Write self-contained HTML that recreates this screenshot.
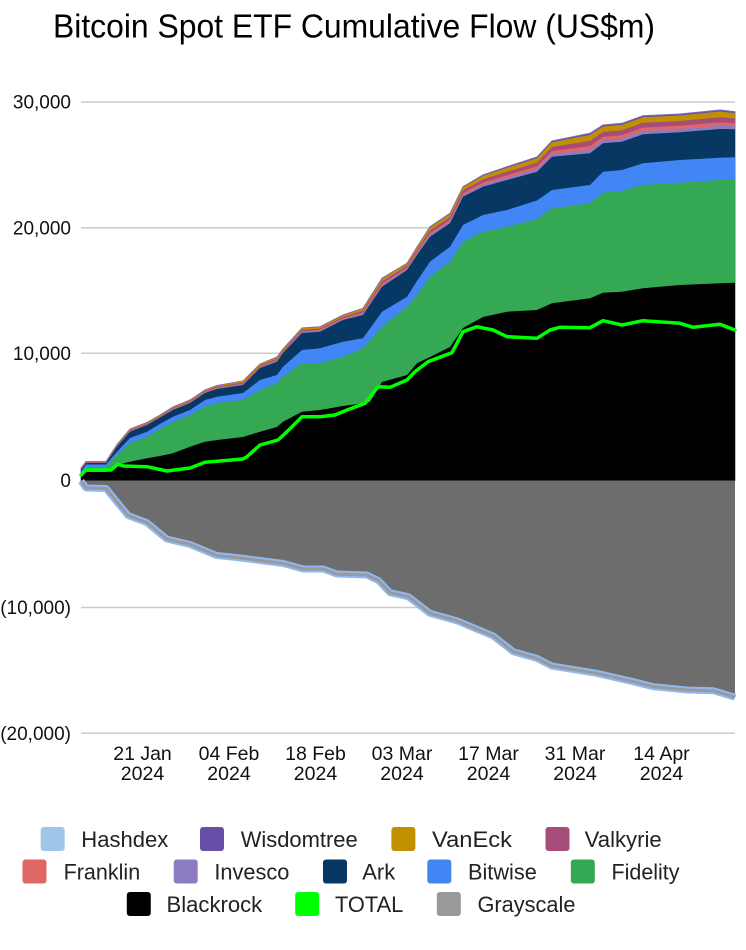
<!DOCTYPE html>
<html>
<head>
<meta charset="utf-8">
<style>
html,body{margin:0;padding:0;background:#fff;}
svg{display:block;}
text{font-family:"Liberation Sans",Arial,sans-serif;}
</style>
</head>
<body>
<svg width="746" height="950" viewBox="0 0 746 950" xmlns="http://www.w3.org/2000/svg">
<rect width="746" height="950" fill="#fff"/>
<!-- title -->
<text x="53" y="37.5" font-size="33" fill="#000" textLength="602" lengthAdjust="spacingAndGlyphs">Bitcoin Spot ETF Cumulative Flow (US$m)</text>

<!-- gridlines -->
<g stroke="#cccccc" stroke-width="1.5">
<line x1="81" y1="102" x2="735" y2="102"/>
<line x1="81" y1="227.7" x2="735" y2="227.7"/>
<line x1="81" y1="353.3" x2="735" y2="353.3"/>
<line x1="81" y1="607.5" x2="735" y2="607.5"/>
<line x1="81" y1="733.3" x2="735" y2="733.3"/>
</g>

<!-- y labels -->
<g font-size="19" fill="#111" text-anchor="end">
<text x="71" y="108.7">30,000</text>
<text x="71" y="234.4">20,000</text>
<text x="71" y="360">10,000</text>
<text x="71" y="487">0</text>
<text x="71" y="614.2">(10,000)</text>
<text x="71" y="740">(20,000)</text>
</g>

<!-- x labels -->
<g font-size="19.5" fill="#111" text-anchor="middle">
<text x="142.5" y="760">21 Jan</text><text x="142.5" y="780">2024</text>
<text x="229" y="760">04 Feb</text><text x="229" y="780">2024</text>
<text x="315.5" y="760">18 Feb</text><text x="315.5" y="780">2024</text>
<text x="402" y="760">03 Mar</text><text x="402" y="780">2024</text>
<text x="488.5" y="760">17 Mar</text><text x="488.5" y="780">2024</text>
<text x="575" y="760">31 Mar</text><text x="575" y="780">2024</text>
<text x="661.5" y="760">14 Apr</text><text x="661.5" y="780">2024</text>
</g>

<!-- positive stack -->
<polygon fill="#674ea7" stroke="#7b68b8" stroke-width="1" points="81,468 86,461.5 106,461.5 117,444.5 130,429 147,422.5 160,415 173,407 190,400 205,390 217,385.5 243,381 260,364 277,357 283,349 302,328 320,326.7 343,315 363,308.3 382,278.3 407,263.3 417,247 430,226.7 450,213.3 463,186.7 483,175 507,166.7 537,157 552,141 590,133.3 603,125 622,123.3 643,115.7 680,114 720,110 735,111.7 735,480.5 81,480.5"/>
<polygon fill="#bf9000" points="81,468.2 86,461.6 106,461.6 117,444.7 130,429.2 147,422.7 160,415.2 173,407.2 190,400.2 205,390.2 217,385.8 243,381.3 260,364.3 277,357.4 283,349.3 302,328.4 320,327.1 343,315.4 363,308.8 382,279 407,263.8 417,247.6 430,227.5 450,214.1 463,187.5 483,175.9 507,167.8 537,158.2 552,142.3 590,134.9 603,126.5 622,124.8 643,117.2 680,115.5 720,111.5 735,113.1 735,480.5 81,480.5"/>
<polygon fill="#a64d79" points="81,468.8 86,462.1 106,462.1 117,445.3 130,430 147,423.5 160,416 173,408.1 190,401.1 205,391.1 217,386.8 243,382.5 260,365.5 277,358.8 283,350.5 302,329.9 320,328.6 343,316.9 363,310.8 382,281.5 407,265.8 417,250 430,230.5 450,217.1 463,190.5 483,179.4 507,171.8 537,162.6 552,147 590,140.9 603,132 622,130.3 643,122.8 680,121 720,117.2 735,118.4 735,480.5 81,480.5"/>
<polygon fill="#e06666" points="81,469.3 86,462.5 106,462.5 117,445.9 130,430.7 147,424.1 160,416.6 173,408.9 190,401.9 205,391.9 217,387.7 243,383.6 260,366.6 277,360 283,351.6 302,331.2 320,329.9 343,318.2 363,312.6 382,283.7 407,267.6 417,252.1 430,233.1 450,219.7 463,193.1 483,182.5 507,175.2 537,166.4 552,151 590,146.1 603,136.7 622,135.1 643,127.6 680,125.7 720,122.2 735,123 735,480.5 81,480.5"/>
<polygon fill="#8e7cc3" points="81,469.6 86,462.7 106,462.7 117,446.3 130,431.2 147,424.6 160,417.1 173,409.5 190,402.5 205,392.5 217,388.4 243,384.3 260,367.3 277,360.9 283,352.3 302,332.1 320,330.8 343,319.1 363,313.8 382,285.2 407,268.8 417,253.6 430,234.9 450,221.5 463,194.9 483,184.6 507,177.6 537,169.1 552,153.9 590,149.7 603,140 622,138.4 643,131 680,129 720,125.6 735,126.1 735,480.5 81,480.5"/>
<polygon fill="#073763" points="81,470 86,463 106,463 117,446.7 130,431.7 147,425 160,417.5 173,410 190,403 205,393 217,389 243,385 260,368 277,361.7 283,353 302,333 320,331.7 343,320 363,315 382,286.7 407,270 417,255 430,236.7 450,223.3 463,196.7 483,186.7 507,180 537,171.7 552,156.7 590,153.3 603,143.3 622,141.7 643,134.3 680,132.3 720,129 735,129.3 735,480.5 81,480.5"/>
<polygon fill="#4285f4" points="81,472 86,464.5 106,464.5 117,451.7 130,438 147,431.7 160,424 173,416.7 190,410 205,400 217,396.7 243,393 260,380 277,375 283,366.7 302,350 320,348.3 343,341.7 363,338.3 382,311.7 407,296.7 417,281 430,261.7 450,246.7 463,225 483,215 507,210 537,200.5 552,190 590,185 603,171.7 622,170 643,163.3 680,160 720,157.7 735,157.3 735,480.5 81,480.5"/>
<polygon fill="#34a853" points="81,474 86,467 106,467 117,455 130,443 147,436.7 160,429 173,421.7 190,415 205,406.7 217,403 243,400 260,390 277,383 283,376.7 302,363 320,363 343,356.7 363,348.3 382,326.7 407,306.7 417,295 430,276.7 450,261.7 463,241.7 483,231.7 507,226.7 537,219 552,208.3 590,203.3 603,192.7 622,190.7 643,185 680,182.7 720,180 735,180 735,480.5 81,480.5"/>
<polygon fill="#000000" points="81,476 86,472 106,472 117,465 130,461.7 147,458.3 160,456 173,453.3 190,446.7 205,441.7 217,440 243,437 260,431.7 277,427 283,421.7 302,411.7 320,410 343,406 363,403.3 370,402 382,382 407,375 417,363.3 430,357 450,347 463,328 483,317 507,311.7 537,310 552,303.3 590,298.3 603,292.7 622,291.7 643,288.3 680,285 720,283.3 735,282.7 735,480.5 81,480.5"/>

<!-- negative (Grayscale) -->
<polygon fill="#6d6d6d" points="81,480.5 735,480.5 735,697.5 733.3,696.7 713.3,690.7 686.7,690 653.3,686.7 633.3,681.7 596.7,673.3 551.7,666 536.7,658.3 513.3,651.7 493.3,636 456.7,620.7 430,613.3 408.3,596.7 390,592.7 378.3,580.5 366.7,575 336.7,574 323.3,569 303.3,569 283.3,563.5 260,560.5 236.7,557.5 216.7,555.5 190,544.5 166.7,539 146.7,522.5 128,515.5 106,488.5 86,488 81,481"/>
<polyline fill="none" stroke="#8fb8f2" stroke-width="7" stroke-linejoin="round" points="81,481 86,488 106,488.5 128,515.5 146.7,522.5 166.7,539 190,544.5 216.7,555.5 236.7,557.5 260,560.5 283.3,563.5 303.3,569 323.3,569 336.7,574 366.7,575 378.3,580.5 390,592.7 408.3,596.7 430,613.3 456.7,620.7 493.3,636 513.3,651.7 536.7,658.3 551.7,666 596.7,673.3 633.3,681.7 653.3,686.7 686.7,690 713.3,690.7 733.3,696.7 735,697.5"/>
<polyline fill="none" stroke="#999999" stroke-width="3" stroke-linejoin="round" points="81,481 86,488 106,488.5 128,515.5 146.7,522.5 166.7,539 190,544.5 216.7,555.5 236.7,557.5 260,560.5 283.3,563.5 303.3,569 323.3,569 336.7,574 366.7,575 378.3,580.5 390,592.7 408.3,596.7 430,613.3 456.7,620.7 493.3,636 513.3,651.7 536.7,658.3 551.7,666 596.7,673.3 633.3,681.7 653.3,686.7 686.7,690 713.3,690.7 733.3,696.7 735,697.5"/>

<!-- TOTAL -->
<polyline fill="none" stroke="#00ff00" stroke-width="3.5" stroke-linejoin="round" stroke-linecap="round" points="81,475 86,470 111,470 118,464 123,466 147,466.7 167,471 190,468 205,462.3 220,461 243,459 247,456.7 260,445 278,440 287,431.7 302,416.7 320,416.7 335,415 347,410 365,403.3 378,386.7 390,387.3 407,380 415,371.7 428,361.7 452,352.7 463,331.7 477,326.7 493,330 507,336.7 537,338.3 550,330 560,327.3 590,327.7 603,320.7 622,325 643,320.7 680,323.3 693,327.3 720,324.3 735,330"/>

<!-- legend -->
<g>
<rect x="40.7" y="827" width="24" height="24" rx="3" fill="#9fc5e8"/>
<rect x="200" y="827" width="24" height="24" rx="3" fill="#674ea7"/>
<rect x="391.4" y="827" width="24" height="24" rx="3" fill="#bf9000"/>
<rect x="545.5" y="827" width="24" height="24" rx="3" fill="#a64d79"/>
<rect x="22.5" y="859.5" width="24" height="24" rx="3" fill="#e06666"/>
<rect x="173.7" y="859.5" width="24" height="24" rx="3" fill="#8e7cc3"/>
<rect x="323" y="859.5" width="24" height="24" rx="3" fill="#073763"/>
<rect x="427.3" y="859.5" width="24" height="24" rx="3" fill="#4285f4"/>
<rect x="570.8" y="859.5" width="24" height="24" rx="3" fill="#34a853"/>
<rect x="126.8" y="892" width="24" height="24" rx="3" fill="#000000"/>
<rect x="295.2" y="892" width="24" height="24" rx="3" fill="#00ff00"/>
<rect x="436.8" y="892" width="24" height="24" rx="3" fill="#999999"/>
</g>
<g font-size="22" fill="#222" lengthAdjust="spacingAndGlyphs">
<text x="81.3" y="847" textLength="87" lengthAdjust="spacingAndGlyphs">Hashdex</text>
<text x="240.7" y="847" textLength="117" lengthAdjust="spacingAndGlyphs">Wisdomtree</text>
<text x="432" y="847" textLength="80" lengthAdjust="spacingAndGlyphs">VanEck</text>
<text x="584.7" y="847" textLength="77" lengthAdjust="spacingAndGlyphs">Valkyrie</text>
<text x="63.6" y="879.5" textLength="76.6" lengthAdjust="spacingAndGlyphs">Franklin</text>
<text x="214.4" y="879.5" textLength="75" lengthAdjust="spacingAndGlyphs">Invesco</text>
<text x="362.2" y="879.5" textLength="33" lengthAdjust="spacingAndGlyphs">Ark</text>
<text x="468" y="879.5" textLength="68.8" lengthAdjust="spacingAndGlyphs">Bitwise</text>
<text x="611.5" y="879.5" textLength="68" lengthAdjust="spacingAndGlyphs">Fidelity</text>
<text x="166.5" y="912" textLength="95.7" lengthAdjust="spacingAndGlyphs">Blackrock</text>
<text x="335" y="912" textLength="68.3" lengthAdjust="spacingAndGlyphs">TOTAL</text>
<text x="477.5" y="912" textLength="98" lengthAdjust="spacingAndGlyphs">Grayscale</text>
</g>
</svg>
</body>
</html>
